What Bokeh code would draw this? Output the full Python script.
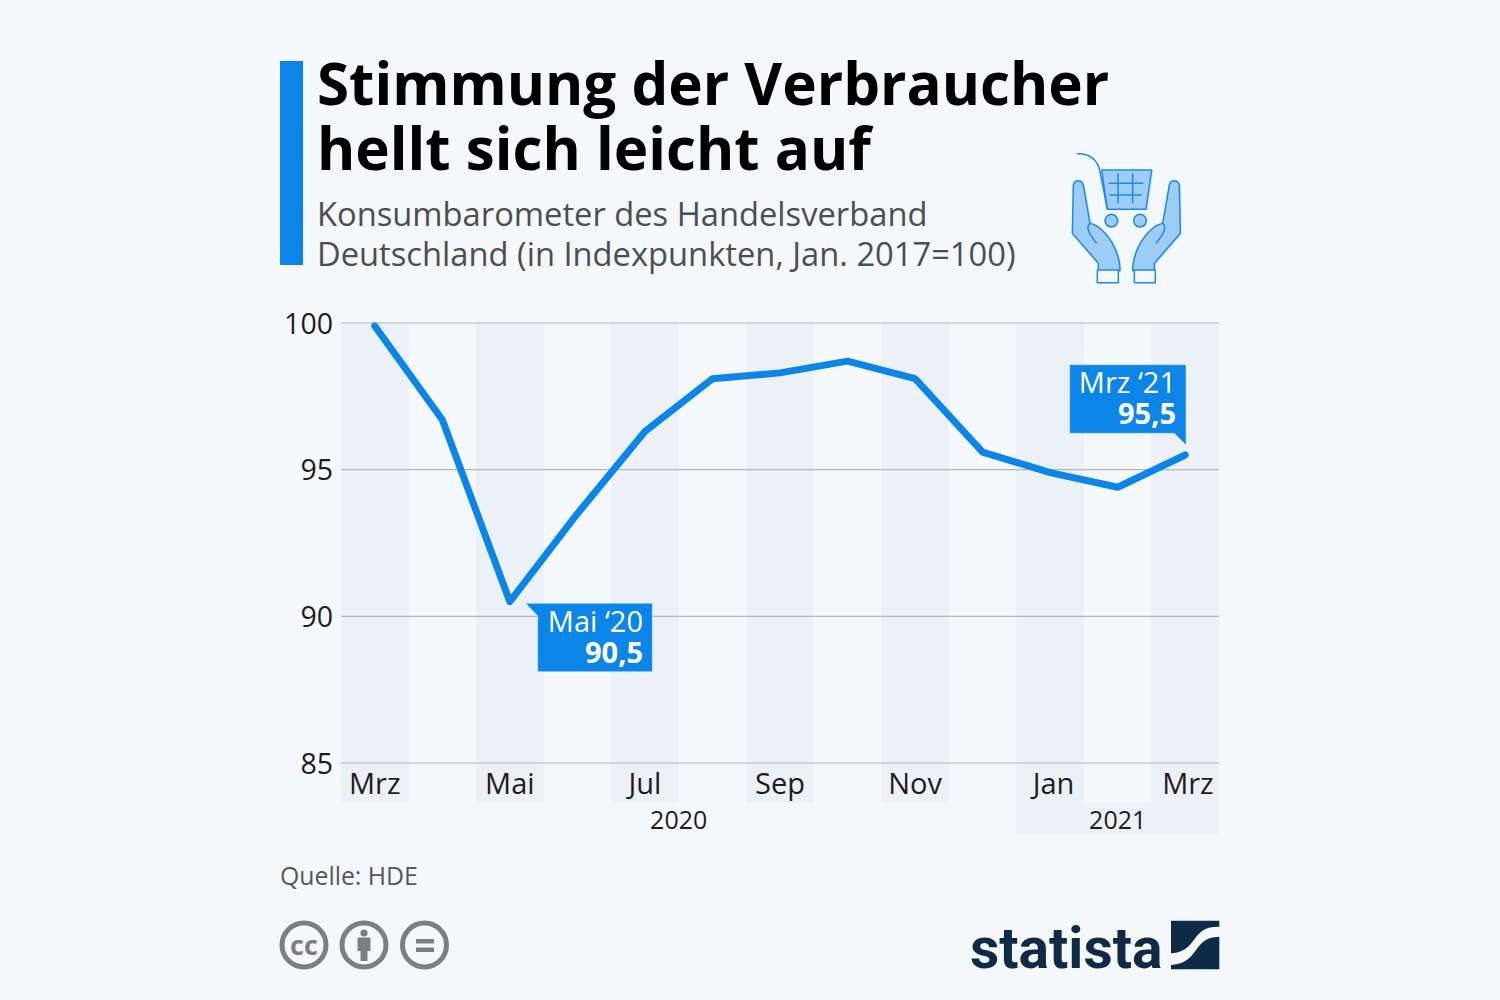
from bokeh.plotting import figure
from bokeh.models import Range1d, FixedTicker, LinearAxis
from bokeh.core.properties import value
from bokeh.embed import file_html
from bokeh.resources import INLINE

months = ["Mrz", "Apr", "Mai", "Jun", "Jul", "Aug", "Sep", "Okt", "Nov", "Dez", "Jan", "Feb", "Mrz"]
index_values = [99.9, 96.7, 90.5, 93.5, 96.3, 98.1, 98.3, 98.7, 98.1, 95.6, 94.9, 94.4, 95.5]
y_ticks = [85, 90, 95, 100]
x_ticks = [0, 2, 4, 6, 8, 10.05, 12.04]
x_tick_labels = ["Mrz", "Mai", "Jul", "Sep", "Nov", "Jan", "Mrz"]
year_labels = ["2020", "2021"]
year_pos = [4.5, 11.0]
title_lines = ["Stimmung der Verbraucher", "hellt sich leicht auf"]
subtitle_lines = ["Konsumbarometer des Handelsverband", "Deutschland (in Indexpunkten, Jan. 2017=100)"]
source = "Quelle: HDE"

BG = "#f5f8fb"
BAND = "#ecf1f7"
BLUE = "#0b85e8"
FONT = value("Open Sans")

# screen geometry of the plotting area
PXL, PXR = 341.0, 1219.0
PYT, PYB = 323.0, 763.0
dx = (PXR - PXL) / 13
dy = (PYB - PYT) / 15
X0 = PXL + dx / 2
to_x = lambda px: (px - X0) / dx
to_y = lambda py: 100 - (py - PYT) / dy

p = figure(width=1500, height=1000, output_backend="svg", toolbar_location=None,
           x_range=Range1d(to_x(0.5), to_x(1500.5)), y_range=Range1d(to_y(1000.5), to_y(0.5)),
           min_border=0, min_border_left=0, min_border_right=0, min_border_top=0, min_border_bottom=0,
           background_fill_color=BG, border_fill_color=BG, outline_line_color=None)
p.extra_x_ranges["px"] = Range1d(0.5, 1500.5)
p.extra_y_ranges["px"] = Range1d(1000.5, 0.5)
p.grid.visible = False
p.xaxis.visible = False
p.yaxis.visible = False


def poly(xs, ys, **kw):
    p.patch(xs, ys, x_range_name="px", y_range_name="px", **kw)


def bez(P0, P1, P2, P3, n=14):
    out = []
    for i in range(n + 1):
        t = i / n
        a = (1 - t) ** 3; b = 3 * (1 - t) ** 2 * t; c = 3 * (1 - t) * t ** 2; d = t ** 3
        out.append((a * P0[0] + b * P1[0] + c * P2[0] + d * P3[0], a * P0[1] + b * P1[1] + c * P2[1] + d * P3[1]))
    return out


def ptext(x, y, s, size, color, bold=False, align="left", font=FONT):
    p.text([x], [y], text=[s], x_range_name="px", y_range_name="px", text_font=font,
           text_font_size=f"{size}px", text_color=color, text_align=align, text_baseline="middle",
           text_font_style="bold" if bold else "normal")


# ---- alternating column bands
odd = list(range(0, 9, 2))
p.quad(left=[i - .5 for i in odd], right=[i + .5 for i in odd], top=100, bottom=to_y(803),
       fill_color=BAND, line_color=None)
p.quad(left=[9.5, 11.5], right=[10.5, 12.5], top=100, bottom=to_y(803), fill_color=BAND, line_color=None)
p.quad(left=[9.5], right=[12.5], top=to_y(803), bottom=to_y(835), fill_color=BAND, line_color=None)

# ---- grid lines
p.segment(x0=[-.5] * 4, x1=[12.5] * 4, y0=y_ticks, y1=y_ticks, line_color="#b4b7ba", line_width=1.2)

# ---- axes
yax = LinearAxis(ticker=FixedTicker(ticks=y_ticks), fixed_location=-0.5, axis_line_color=None,
                 major_tick_line_color=None, minor_tick_line_color=None, major_label_standoff=2,
                 major_label_text_font="Open Sans", major_label_text_font_size="28.5px",
                 major_label_text_color="#1d1d1d")
p.add_layout(yax, "left")
xax = LinearAxis(ticker=FixedTicker(ticks=x_ticks), fixed_location=85, axis_line_color=None,
                 major_tick_line_color=None, minor_tick_line_color=None, major_label_standoff=-6,
                 major_label_overrides=dict(zip(x_ticks, x_tick_labels)),
                 major_label_text_font="Open Sans", major_label_text_font_size="29px",
                 major_label_text_color="#1d1d1d")
p.add_layout(xax, "below")
p.text(year_pos, [to_y(820)] * 2, text=year_labels, text_font=FONT, text_font_size="25px",
       text_color="#1d1d1d", text_align="center", text_baseline="middle")

# ---- the line
p.line(list(range(len(index_values))), index_values, line_color=BLUE, line_width=7,
       line_cap="round", line_join="round")

# ---- callouts
poly([525.7, 652.3, 652.3, 537.7, 537.7], [603.3, 603.3, 671.7, 671.7, 616], fill_color=BLUE, line_color="#cfe5f8", line_width=0.6)
ptext(643, 620, "Mai ‘20", 29, "white", align="right")
ptext(643, 652, "90,5", 29, "white", bold=True, align="right")
poly([1069.7, 1186, 1186, 1174.3, 1069.7], [364.7, 364.7, 445, 433.3, 433.3], fill_color=BLUE, line_color="#cfe5f8", line_width=0.6)
ptext(1176, 381, "Mrz ‘21", 29, "white", align="right")
ptext(1176, 413, "95,5", 29, "white", bold=True, align="right")

# ---- header
poly([280, 303, 303, 280], [61, 61, 265, 265], fill_color=BLUE, line_color=None)
ptext(317, 82, title_lines[0], 58.3, "#000000", bold=True)
ptext(317, 147, title_lines[1], 58.3, "#000000", bold=True)
ptext(317, 213, subtitle_lines[0], 32.7, "#4a4f52")
ptext(317, 253, subtitle_lines[1], 32.7, "#4a4f52")

# ---- source
ptext(280, 874.5, source, 24.8, "#55595c")

# ---- icon (drawn in crop coordinates)
ICO = lambda pts: ([1040 + a / 3 for a, _ in pts], [140 + b / 3 for _, b in pts])
STROKE = "#1a8ae8"
FILL = "#9dccf5"
SHADOW = "#cfe5fa"


def ico(pts, fill=None, lw=1.5, shadow=True):
    xs, ys = ICO(pts)
    if fill and shadow:
        p.patch([x + 1.7 for x in xs], [y + 1 for y in ys], x_range_name="px", y_range_name="px",
                fill_color=SHADOW, line_color=None)
    if fill:
        p.patch(xs, ys, x_range_name="px", y_range_name="px", fill_color=fill, line_color=STROKE, line_width=lw)
    else:
        p.line(xs, ys, x_range_name="px", y_range_name="px", line_color=STROKE, line_width=lw)


basket = [(185, 90), (335, 90), (318, 208), (202, 208)]
ico(basket, FILL)
ico(bez((110, 41), (150, 40), (175, 60), (181, 100)) + [(202, 208)])
for seg in ([(234, 100), (234, 190)], [(278, 100), (278, 190)], [(205, 130), (310, 130)], [(208, 165), (305, 165)]):
    ico(seg)
for cx in (214, 300):
    p.circle([1040 + (cx + 4) / 3], [140 + 243 / 3], radius=6.5, x_range_name="px", y_range_name="px",
             fill_color=SHADOW, line_color=None)
    p.circle([1040 + cx / 3], [140 + 242 / 3], radius=6.3, x_range_name="px", y_range_name="px",
             fill_color=FILL, line_color=STROKE, line_width=1.5)

left_hand = ([(97, 280), (100, 135)] + bez((100, 135), (102, 118), (128, 118), (130, 135), 8)
             + [(150, 250)] + bez((150, 250), (185, 255), (240, 320), (240, 392), 16)
             + [(175, 392), (175, 370)])
left_line = bez((150, 250), (135, 262), (150, 285), (170, 310), 10)
left_cuff = [(172, 390), (235, 390), (235, 428), (172, 428)]
mirror = lambda pts: [(518 - a, b) for a, b in pts]
for hand, line, cuff in ((left_hand, left_line, left_cuff),
                         (mirror(left_hand), mirror(left_line), mirror(left_cuff))):
    ico(hand, FILL)
    ico(line)
    ico(cuff, BG, shadow=False)

# ---- licence icons
GRAY = "#7c7f7e"
for cx in (304, 364, 424.5):
    p.circle([cx], [945], radius=22, x_range_name="px", y_range_name="px",
             fill_color=None, line_color=GRAY, line_width=5)
ptext(304, 944, "cc", 27, GRAY, bold=True, align="center")
p.circle([364], [933], radius=3.6, x_range_name="px", y_range_name="px", fill_color=GRAY, line_color=None)
poly([357.5, 370.5, 370.5, 367.5, 367.5, 360.5, 360.5, 357.5], [937.5, 937.5, 951, 951, 961, 961, 951, 951],
     fill_color=GRAY, line_color=None)
poly([416, 434, 434, 416], [939, 939, 943.5, 943.5], fill_color=GRAY, line_color=None)
poly([416, 434, 434, 416], [947.5, 947.5, 952, 952], fill_color=GRAY, line_color=None)

# ---- statista logo
DARK = "#0e2a47"
ptext(970, 948, "statista", 57, DARK, bold=True, font=value("Roboto"))
L = lambda pts: [(950 + a / 3, 900 + b / 3) for a, b in pts]
top = L([(663, 62), (808, 62), (808, 80)] + bez((808, 80), (720, 78), (745, 155), (663, 160)))
bot = L([(808, 110)] + bez((808, 110), (725, 112), (750, 190), (663, 195)) + [(663, 208), (808, 208)])
poly([a for a, _ in top], [b for _, b in top], fill_color=DARK, line_color=None)
poly([a for a, _ in bot], [b for _, b in bot], fill_color=DARK, line_color=None)

html = file_html(p, INLINE)
html = html.replace("<head>", "<head><style>html,body{background:" + BG + ";}</style>", 1)
open("out.html", "w").write(html)
